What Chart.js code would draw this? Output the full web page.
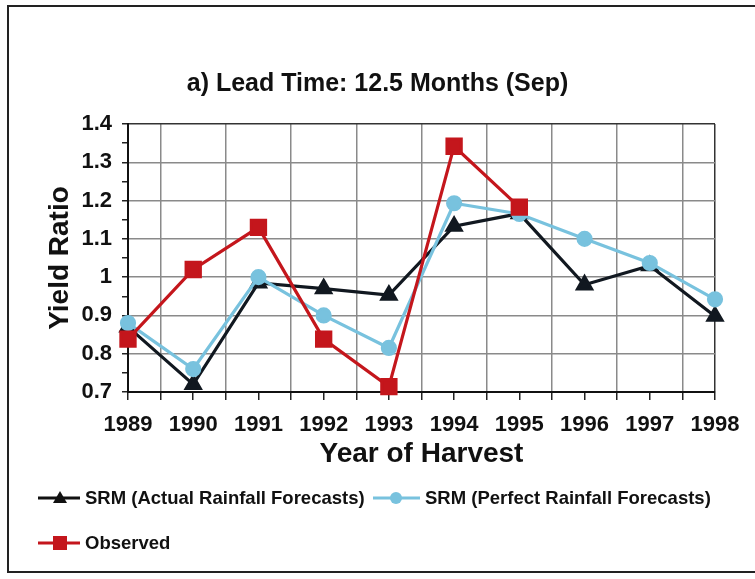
<!DOCTYPE html>
<html>
<head>
<meta charset="utf-8">
<script src="https://cdn.jsdelivr.net/npm/chart.js@4.4.1/dist/chart.umd.min.js"></script>
<style>
  body { margin: 0; background: #fff; }
  #wrap { position: relative; width: 755px; height: 579px; overflow: hidden; background: #fff; }
  #frame { position: absolute; left: 7px; top: 5px; width: 770px; height: 568px; border: 2px solid #222; box-sizing: border-box; }
  #yield { position: absolute; left: 0; top: 0; }
  .key { position: absolute; height: 24px; display: flex; align-items: center;
         font: bold 18.5px "Liberation Sans", Arial, sans-serif; color: #111; white-space: nowrap; }
  .key svg { margin-right: 5px; }
</style>
</head>
<body>
<div id="wrap">
  <div id="frame"></div>
  <canvas id="yield" width="755" height="579"></canvas>
  <div class="key" style="left:38px; top:486px;">
    <svg width="42" height="20"><line x1="0" y1="10" x2="42" y2="10" stroke="#111" stroke-width="3"/><polygon points="22,3 29,15 15,15" fill="#111"/></svg>SRM (Actual Rainfall Forecasts)
  </div>
  <div class="key" style="left:373px; top:486px;">
    <svg width="47" height="20"><line x1="0" y1="10" x2="47" y2="10" stroke="#78c2de" stroke-width="3"/><circle cx="23" cy="10" r="6" fill="#78c2de"/></svg>SRM (Perfect Rainfall Forecasts)
  </div>
  <div class="key" style="left:38px; top:531px;">
    <svg width="42" height="20"><line x1="0" y1="10" x2="42" y2="10" stroke="#c4161c" stroke-width="3"/><rect x="15" y="3" width="14" height="14" fill="#c4161c"/></svg>Observed
  </div>
</div>
<script>
const years = [1989, 1990, 1991, 1992, 1993, 1994, 1995, 1996, 1997, 1998];
const actualForecast = [0.87, 0.72, 0.985, 0.97, 0.953, 1.133, 1.166, 0.98, 1.03, 0.898];
const perfectForecast = [0.88, 0.76, 1.0, 0.90, 0.815, 1.193, 1.165, 1.10, 1.037, 0.942];
const observed = [0.838, 1.02, 1.13, 0.838, 0.714, 1.342, 1.183];

const font = '"Liberation Sans", Arial, sans-serif';
const toPoints = vals => vals.map((v, i) => ({ x: years[i], y: v }));
const isWhole = (v, step) => Math.abs(v / step - Math.round(v / step)) < 1e-6;

new Chart(document.getElementById('yield'), {
  type: 'line',
  data: {
    datasets: [
      {
        label: 'SRM (Actual Rainfall Forecasts)',
        data: toPoints(actualForecast),
        borderColor: '#111820', backgroundColor: '#111820',
        borderWidth: 3.2, pointStyle: 'triangle', pointRadius: 8,
        clip: false, order: 3
      },
      {
        label: 'SRM (Perfect Rainfall Forecasts)',
        data: toPoints(perfectForecast),
        borderColor: '#78c2de', backgroundColor: '#78c2de',
        borderWidth: 3.2, pointStyle: 'circle', pointRadius: 6.5,
        clip: false, order: 2
      },
      {
        label: 'Observed',
        data: toPoints(observed),
        borderColor: '#c4161c', backgroundColor: '#c4161c',
        borderWidth: 3.2, pointStyle: 'rect', pointRadius: 10,
        clip: false, order: 1
      }
    ]
  },
  options: {
    responsive: false,
    animation: false,
    layout: { padding: { left: 40, right: 40, top: 69, bottom: 87 } },
    plugins: {
      legend: { display: false },
      tooltip: { enabled: false },
      title: {
        display: true,
        text: 'a) Lead Time: 12.5 Months (Sep)',
        color: '#111',
        font: { family: font, size: 25, weight: 'bold' },
        padding: { top: 0, bottom: 25 }
      }
    },
    scales: {
      x: {
        type: 'linear',
        min: 1989, max: 1998,
        afterFit: s => { s.height = 100; },
        ticks: {
          stepSize: 0.5, autoSkip: false, maxRotation: 0, padding: 12,
          color: '#111', font: { family: font, size: 22, weight: 'bold' },
          callback: v => isWhole(v, 1) ? String(v) : ''
        },
        grid: {
          color: c => c.tick && c.tick.value === 1998 ? '#333' : (isWhole(c.tick ? c.tick.value : 0, 1) ? 'rgba(0,0,0,0)' : '#8a8a8a'),
          lineWidth: 1.5, tickLength: 8, tickColor: '#222', tickWidth: 1.5
        },
        border: { color: '#111', width: 2 },
        title: {
          display: true, text: 'Year of Harvest', color: '#111',
          font: { family: font, size: 28, weight: 'bold' },
          padding: { top: 0, bottom: 21 }
        }
      },
      y: {
        min: 0.7, max: 1.4,
        afterFit: s => { s.width = 88; },
        ticks: {
          stepSize: 0.05, autoSkip: false, padding: 10,
          color: '#111', font: { family: font, size: 22, weight: 'bold' },
          callback: v => isWhole(v, 0.1) ? String(+v.toFixed(1)) : ''
        },
        grid: {
          color: c => {
            const v = c.tick ? c.tick.value : 0;
            if (Math.abs(v - 1.4) < 1e-6) return '#333';
            return isWhole(v, 0.1) ? '#8a8a8a' : 'rgba(0,0,0,0)';
          },
          lineWidth: 1.5, tickLength: 6, tickColor: '#222', tickWidth: 1.5
        },
        border: { color: '#111', width: 2 },
        title: {
          display: true, text: 'Yield Ratio', color: '#111',
          font: { family: font, size: 28, weight: 'bold' },
          padding: { top: 3, bottom: 0 }
        }
      }
    }
  }
});
</script>
</body>
</html>
